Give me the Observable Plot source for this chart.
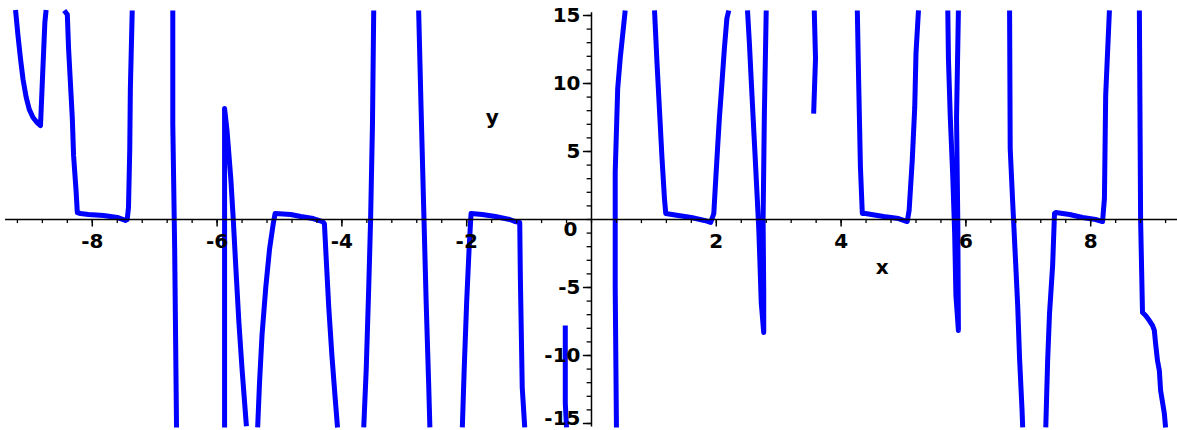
<!DOCTYPE html>
<html>
<head>
<meta charset="utf-8">
<script src="https://cdn.jsdelivr.net/npm/d3@7"></script>
<script src="https://cdn.jsdelivr.net/npm/@observablehq/plot@0.6"></script>
<style>
  html, body { margin: 0; padding: 0; background: #fff; }
</style>
</head>
<body>
<div id="chart"></div>
<script>
// Each branch of the curve between two jumps, as [x, y] points (view clipped at about ±15.4).
const branchA = [[-9.23,15.4],[-9.19,13.5],[-9.15,11.8],[-9.11,10.3],[-9.06,9.0],[-9.01,8.1],[-8.95,7.5],[-8.88,7.1],[-8.83,6.9],[-8.80,10.2],[-8.76,14.5],[-8.74,15.4]];
const branchB = [[-8.45,15.37],[-8.40,15.07],[-8.38,12.57],[-8.35,10.0],[-8.32,7.43],[-8.30,4.71],[-8.26,2.13],[-8.24,0.51],[-8.19,0.44],[-8.06,0.37],[-7.82,0.29],[-7.60,0.15],[-7.47,-0.07],[-7.44,0],[-7.42,0.88],[-7.40,5.07],[-7.39,9.63],[-7.36,15.37]];
const branchC = [[-6.71,15.37],[-6.71,7.06],[-6.68,-2.06],[-6.65,-15.29]];
const branchD = [[-5.88,-15.29],[-5.88,8.16],[-5.84,6.5],[-5.78,3.0],[-5.74,-0.07],[-5.70,-3.5],[-5.65,-7.6],[-5.60,-11.0],[-5.53,-15.2]];
const branchE = [[-5.35,-15.29],[-5.32,-12.0],[-5.28,-8.5],[-5.22,-5.0],[-5.16,-2.2],[-5.10,-0.3],[-5.07,0.44],[-4.82,0.37],[-4.66,0.22],[-4.46,0.07],[-4.31,-0.15],[-4.28,-0.3],[-4.25,-3.0],[-4.21,-6.5],[-4.16,-10.0],[-4.11,-13.0],[-4.07,-15.29]];
const branchF = [[-3.65,-15.29],[-3.61,-11.0],[-3.57,-5.0],[-3.54,0],[-3.51,7.0],[-3.49,15.37]];
const branchG = [[-2.77,15.37],[-2.73,8.0],[-2.69,1.0],[-2.65,-6.0],[-2.61,-12.0],[-2.59,-15.29]];
const branchH = [[-2.07,-15.29],[-2.04,-11.0],[-2.00,-6.0],[-1.96,-2.0],[-1.93,0.44],[-1.75,0.37],[-1.54,0.22],[-1.31,0],[-1.22,-0.15],[-1.15,-0.22],[-1.14,-4.26],[-1.11,-12.35],[-1.07,-15.29]];
const branchI = [[-0.42,-7.79],[-0.42,-13.5],[-0.40,-15.29]];
const branchJ = [[0.40,-15.29],[0.38,-5.0],[0.38,3.46],[0.42,9.63],[0.46,11.84],[0.51,14.04],[0.54,15.37]];
const branchK = [[1.01,15.37],[1.05,11.5],[1.09,8.0],[1.13,4.5],[1.17,1.5],[1.19,0.44],[1.39,0.29],[1.60,0.15],[1.81,-0.07],[1.91,-0.22],[1.96,0.44],[1.99,2.87],[2.02,5.22],[2.05,7.5],[2.09,10.0],[2.13,12.6],[2.17,14.8],[2.20,15.37]];
const branchL = [[2.50,15.37],[2.53,13.01],[2.56,10.22],[2.59,7.5],[2.62,4.85],[2.65,2.13],[2.68,-0.59],[2.70,-3.24],[2.72,-6.1],[2.76,-8.31],[2.76,-5.22],[2.75,-0.07],[2.77,7.65],[2.80,15.37]];
const branchM = [[3.57,15.37],[3.59,11.84],[3.56,7.79]];
const branchN = [[4.26,15.37],[4.28,10.44],[4.31,3.82],[4.34,0.44],[4.39,0.44],[4.68,0.22],[4.92,0.07],[5.06,-0.15],[5.09,0.66],[5.14,4.34],[5.18,8.24],[5.20,12.21],[5.24,15.37]];
const branchO = [[5.71,15.37],[5.72,11.84],[5.75,7.5],[5.79,3.09],[5.82,-1.03],[5.84,-5.59],[5.88,-8.16],[5.87,-0.07],[5.85,7.5],[5.88,15.37]];
const branchP = [[6.70,15.37],[6.71,5.22],[6.75,1.25],[6.79,-2.5],[6.83,-6.32],[6.86,-10.22],[6.90,-14.04],[6.91,-15.29]];
const branchQ = [[7.28,-15.29],[7.31,-10.37],[7.34,-6.91],[7.39,-3.38],[7.42,0.44],[7.44,0.51],[7.66,0.37],[7.87,0.15],[8.08,0],[8.19,-0.15],[8.22,1.54],[8.24,9.12],[8.30,15.37]];
const branchR = [[8.78,15.37],[8.80,-0.07],[8.83,-6.84],[8.88,-7.06],[8.94,-7.43],[8.99,-7.79],[9.02,-8.16],[9.04,-9.12],[9.07,-10.37],[9.10,-11.1],[9.12,-12.57],[9.18,-14.26],[9.20,-15.29]];

const branches = [branchA, branchB, branchC, branchD, branchE, branchF, branchG, branchH, branchI,
                  branchJ, branchK, branchL, branchM, branchN, branchO, branchP, branchQ, branchR];

// Labelled ticks on each axis
const xTickLabels = [-8, -6, -4, -2, 2, 4, 6, 8];
const yTickLabels = [-15, -10, -5, 5, 10, 15];

// Unlabelled minor ticks
const xMinorTicks = d3.range(-9.2, 9.3, 0.4).map(v => Math.round(v * 10) / 10);
const yMinorTicks = d3.range(-15, 16, 1);

const curve = branches.flatMap((pts, i) => pts.map(([x, y]) => ({branch: i, x, y})));

const font = "DejaVu Sans, Verdana, sans-serif";
const labelStyle = {fontSize: 20, fontWeight: "bold", fontFamily: font, fill: "#000"};

const chart = Plot.plot({
  width: 1177,
  height: 430,
  margin: 0,
  style: {background: "#fff", overflow: "visible"},
  x: {domain: [-9.471, 9.391], range: [0, 1177], axis: null},
  y: {domain: [-15.515, 16.103], range: [430, 0], axis: null},
  marks: [
    // the curve
    Plot.line(curve, {x: "x", y: "y", z: "branch", stroke: "#0000ff", strokeWidth: 5,
                      strokeLinejoin: "round", strokeLinecap: "butt"}),
    // axes through the origin
    Plot.ruleY([0], {x1: -9.39, x2: 9.42, stroke: "#000", strokeWidth: 1.5}),
    Plot.ruleX([0], {y1: -15.25, y2: 15.2, stroke: "#000", strokeWidth: 1.5}),
    // x ticks (below the axis)
    Plot.ruleX(xMinorTicks, {x: d => d, y1: 0, y2: -0.3, stroke: "#000", strokeWidth: 1.3}),
    Plot.ruleX(xTickLabels, {x: d => d, y1: 0, y2: -0.55, stroke: "#000", strokeWidth: 1.5}),
    // y ticks (left of the axis)
    Plot.ruleY(yMinorTicks, {y: d => d, x1: -0.07, x2: 0, stroke: "#000", strokeWidth: 1.3}),
    Plot.ruleY(yTickLabels, {y: d => d, x1: -0.13, x2: 0, stroke: "#000", strokeWidth: 1.5}),
    // tick labels
    Plot.text(xTickLabels, {x: d => d, y: 0, text: d => String(d), dy: 22, ...labelStyle}),
    Plot.text(yTickLabels.filter(v => v > -15), {x: 0, y: d => d, text: d => String(d),
                                                  dx: -11, textAnchor: "end", ...labelStyle}),
    // the lowest label sits against the bottom edge
    Plot.text(yTickLabels.filter(v => v === -15), {x: 0, y: d => d, text: d => String(d),
                                                    dx: -11, dy: -5, textAnchor: "end", ...labelStyle}),
    Plot.text([0], {x: 0, y: 0, text: () => "0", dx: -14, dy: 10, textAnchor: "end", ...labelStyle}),
    // axis titles
    Plot.text(["x"], {x: 4.66, y: -3.5, text: d => d, ...labelStyle}),
    Plot.text(["y"], {x: -1.59, y: 7.5, text: d => d, ...labelStyle})
  ]
});

document.getElementById("chart").appendChild(chart);
</script>
</body>
</html>
